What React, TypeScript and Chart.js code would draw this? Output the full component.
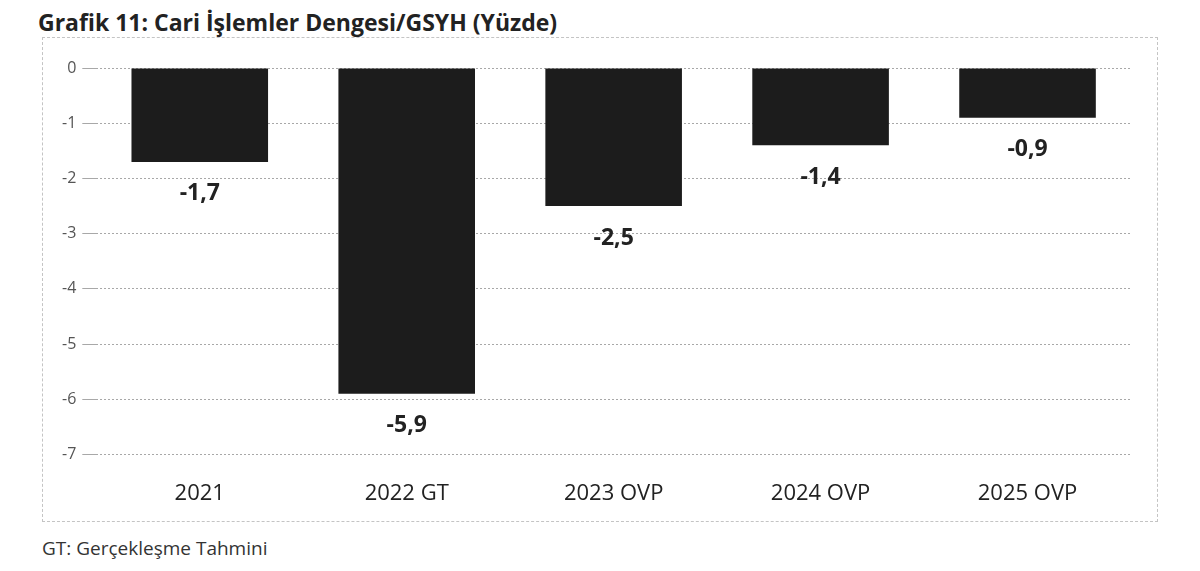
import { useEffect, useRef } from "react";
import { Chart, registerables, Plugin } from "chart.js";

Chart.register(...registerables);

const categories = ["2021", "2022 GT", "2023 OVP", "2024 OVP", "2025 OVP"];
const balance = [-1.7, -5.9, -2.5, -1.4, -0.9];
const yTicks = [0, -1, -2, -3, -4, -5, -6, -7];

const FONT = "'Open Sans', 'Noto Sans', sans-serif";

// value labels under each bar end, Turkish decimal comma
const valueLabels: Plugin<"bar"> = {
  id: "valueLabels",
  afterDatasetsDraw(chart) {
    const ctx = chart.ctx;
    const meta = chart.getDatasetMeta(0);
    ctx.save();
    ctx.font = `bold 23px ${FONT}`;
    ctx.fillStyle = "#222";
    ctx.textAlign = "center";
    ctx.textBaseline = "middle";
    meta.data.forEach((bar, i) => {
      const v = balance[i];
      ctx.fillText(v.toFixed(1).replace(".", ","), bar.x, bar.y + 32);
    });
    ctx.restore();
  },
};

const BalanceChart = () => {
  const chartRef = useRef<HTMLCanvasElement | null>(null);

  useEffect(() => {
    if (!chartRef.current) return;
    const ctx = chartRef.current.getContext("2d");
    if (!ctx) return;

    const myChart = new Chart(ctx, {
      type: "bar",
      data: {
        labels: categories,
        datasets: [
          {
            data: balance,
            backgroundColor: "#1c1c1c",
            categoryPercentage: 1,
            barPercentage: 0.66,
          },
        ],
      },
      options: {
        responsive: false,
        animation: false,
        layout: { padding: { top: 31, right: 27, bottom: 0, left: 14 } },
        plugins: {
          legend: { display: false },
          tooltip: { enabled: false },
        },
        scales: {
          x: {
            grid: { display: false, drawTicks: false },
            border: { display: false },
            ticks: {
              color: "#222",
              font: { family: FONT, size: 22 },
              padding: 26,
            },
          },
          y: {
            min: yTicks[yTicks.length - 1],
            max: yTicks[0],
            afterBuildTicks: (axis) => {
              axis.ticks = yTicks.map((v) => ({ value: v }));
            },
            grid: {
              color: "#a8a8a8",
              lineWidth: 1,
              drawTicks: true,
              tickLength: 14,
            },
            border: { display: false, dash: [2, 2] },
            ticks: {
              color: "#555",
              font: { family: FONT, size: 16 },
              padding: 6,
            },
          },
        },
      },
      plugins: [valueLabels],
    });

    return () => {
      myChart.destroy();
    };
  }, []);

  return <canvas ref={chartRef} width={1116} height={496}></canvas>;
};

export default function App() {
  return (
    <div style={{ position: "relative", width: 1184, height: 555 }}>
      <div
        style={{
          position: "absolute",
          left: 30,
          top: -2,
          fontFamily: FONT,
          fontWeight: 700,
          fontSize: 23,
          color: "#222",
          whiteSpace: "nowrap",
        }}
      >
        Grafik 11: Cari İşlemler Dengesi/GSYH (Yüzde)
      </div>
      <div
        style={{
          position: "absolute",
          left: 34,
          top: 29,
          width: 1116,
          height: 485,
          border: "1px dashed #c4c4c4",
          boxSizing: "border-box",
        }}
      >
        <div style={{ position: "absolute", left: -1, top: -1 }}>
          <BalanceChart />
        </div>
      </div>
      <div
        style={{
          position: "absolute",
          left: 34,
          top: 527,
          fontFamily: FONT,
          fontSize: 19,
          color: "#333",
          whiteSpace: "nowrap",
        }}
      >
        GT: Gerçekleşme Tahmini
      </div>
    </div>
  );
}
